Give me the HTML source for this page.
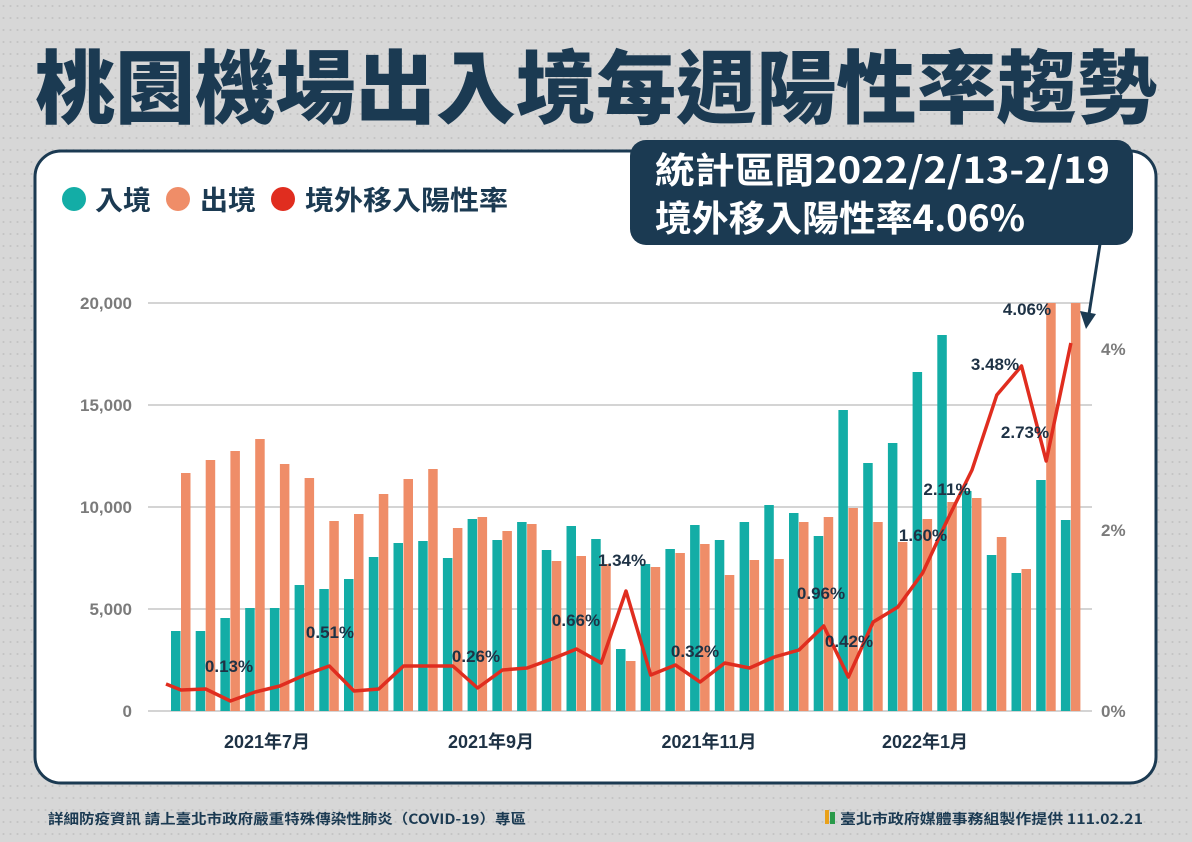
<!DOCTYPE html>
<html><head><meta charset="utf-8">
<style>
html,body{margin:0;padding:0;}
body{width:1192px;height:842px;overflow:hidden;background-color:#d7d7d7;
background-image:radial-gradient(circle,#c4c4c4 0.9px,transparent 1.2px);background-size:7px 12px;
font-family:"Liberation Sans","Noto Sans CJK TC",sans-serif;}
svg{position:absolute;left:0;top:0;}
</style></head><body>
<svg width="1192" height="842" viewBox="0 0 1192 842" xmlns="http://www.w3.org/2000/svg" font-family="'Liberation Sans','Noto Sans CJK TC',sans-serif">
<text x="596" y="117" text-anchor="middle" font-family="'Noto Sans CJK TC',sans-serif" font-weight="900" font-size="80" fill="#1b3a52" textLength="1122" lengthAdjust="spacingAndGlyphs">桃園機場出入境每週陽性率趨勢</text>
<rect x="35" y="151" width="1121" height="632" rx="26" fill="#fff" stroke="#1b3a52" stroke-width="3"/>
<!-- legend -->
<circle cx="74" cy="199" r="12" fill="#13ada6"/>
<text x="95" y="210" font-family="'Noto Sans CJK TC',sans-serif" font-weight="700" font-size="27" fill="#1b3a52" textLength="56" lengthAdjust="spacingAndGlyphs">入境</text>
<circle cx="178" cy="199" r="12" fill="#ef8d68"/>
<text x="200" y="210" font-family="'Noto Sans CJK TC',sans-serif" font-weight="700" font-size="27" fill="#1b3a52" textLength="56" lengthAdjust="spacingAndGlyphs">出境</text>
<circle cx="283" cy="199" r="12" fill="#e02d1f"/>
<text x="305" y="210" font-family="'Noto Sans CJK TC',sans-serif" font-weight="700" font-size="27" fill="#1b3a52" textLength="203" lengthAdjust="spacingAndGlyphs">境外移入陽性率</text>
<!-- grid -->
<g stroke="#bbb" stroke-width="1.3">
<line x1="148" y1="303" x2="1092" y2="303"/><line x1="148" y1="405" x2="1092" y2="405"/>
<line x1="148" y1="507" x2="1092" y2="507"/><line x1="148" y1="609" x2="1092" y2="609"/>
<line x1="148" y1="711" x2="1092" y2="711"/></g>
<g font-size="17" fill="#7b7b7b" font-weight="700" text-anchor="end">
<text x="132" y="309">20,000</text><text x="132" y="411">15,000</text><text x="132" y="513">10,000</text><text x="132" y="615">5,000</text><text x="132" y="717">0</text></g>
<g font-size="17" fill="#7b7b7b" font-weight="700">
<text x="1101" y="355">4%</text><text x="1101" y="536">2%</text><text x="1101" y="717">0%</text></g>
<!-- bars -->
<g fill="#13ada6">
<rect x="171" y="631" width="9.5" height="80"/><rect x="195.7" y="631" width="9.5" height="80"/><rect x="220.4" y="618" width="9.5" height="93"/><rect x="245.2" y="608" width="9.5" height="103"/><rect x="269.9" y="608" width="9.5" height="103"/><rect x="294.6" y="585" width="9.5" height="126"/><rect x="319.3" y="589" width="9.5" height="122"/><rect x="344" y="579" width="9.5" height="132"/><rect x="368.8" y="557" width="9.5" height="154"/><rect x="393.5" y="543" width="9.5" height="168"/><rect x="418.2" y="541" width="9.5" height="170"/><rect x="442.9" y="558" width="9.5" height="153"/><rect x="467.6" y="519" width="9.5" height="192"/><rect x="492.4" y="540" width="9.5" height="171"/><rect x="517.1" y="522" width="9.5" height="189"/><rect x="541.8" y="550" width="9.5" height="161"/><rect x="566.5" y="526" width="9.5" height="185"/><rect x="591.2" y="539" width="9.5" height="172"/><rect x="616" y="649" width="9.5" height="62"/><rect x="640.7" y="564" width="9.5" height="147"/><rect x="665.4" y="549" width="9.5" height="162"/><rect x="690.1" y="525" width="9.5" height="186"/><rect x="714.8" y="540" width="9.5" height="171"/><rect x="739.6" y="522" width="9.5" height="189"/><rect x="764.3" y="505" width="9.5" height="206"/><rect x="789" y="513" width="9.5" height="198"/><rect x="813.7" y="536" width="9.5" height="175"/><rect x="838.4" y="410" width="9.5" height="301"/><rect x="863.2" y="463" width="9.5" height="248"/><rect x="887.9" y="443" width="9.5" height="268"/><rect x="912.6" y="372" width="9.5" height="339"/><rect x="937.3" y="335" width="9.5" height="376"/><rect x="962" y="491" width="9.5" height="220"/><rect x="986.8" y="555" width="9.5" height="156"/><rect x="1011.5" y="573" width="9.5" height="138"/><rect x="1036.2" y="480" width="9.5" height="231"/><rect x="1060.9" y="520" width="9.5" height="191"/>
</g>
<g fill="#ef8d68">
<rect x="181" y="473" width="9.5" height="238"/><rect x="205.7" y="460" width="9.5" height="251"/><rect x="230.4" y="451" width="9.5" height="260"/><rect x="255.2" y="439" width="9.5" height="272"/><rect x="279.9" y="464" width="9.5" height="247"/><rect x="304.6" y="478" width="9.5" height="233"/><rect x="329.3" y="521" width="9.5" height="190"/><rect x="354" y="514" width="9.5" height="197"/><rect x="378.8" y="494" width="9.5" height="217"/><rect x="403.5" y="479" width="9.5" height="232"/><rect x="428.2" y="469" width="9.5" height="242"/><rect x="452.9" y="528" width="9.5" height="183"/><rect x="477.6" y="517" width="9.5" height="194"/><rect x="502.4" y="531" width="9.5" height="180"/><rect x="527.1" y="524" width="9.5" height="187"/><rect x="551.8" y="561" width="9.5" height="150"/><rect x="576.5" y="556" width="9.5" height="155"/><rect x="601.2" y="564" width="9.5" height="147"/><rect x="626" y="661" width="9.5" height="50"/><rect x="650.7" y="567" width="9.5" height="144"/><rect x="675.4" y="553" width="9.5" height="158"/><rect x="700.1" y="544" width="9.5" height="167"/><rect x="724.8" y="575" width="9.5" height="136"/><rect x="749.6" y="560" width="9.5" height="151"/><rect x="774.3" y="559" width="9.5" height="152"/><rect x="799" y="522" width="9.5" height="189"/><rect x="823.7" y="517" width="9.5" height="194"/><rect x="848.4" y="508" width="9.5" height="203"/><rect x="873.2" y="522" width="9.5" height="189"/><rect x="897.9" y="542" width="9.5" height="169"/><rect x="922.6" y="519" width="9.5" height="192"/><rect x="947.3" y="502" width="9.5" height="209"/><rect x="972" y="498" width="9.5" height="213"/><rect x="996.8" y="537" width="9.5" height="174"/><rect x="1021.5" y="569" width="9.5" height="142"/><rect x="1046.2" y="303" width="9.5" height="408"/><rect x="1070.9" y="303" width="9.5" height="408"/>
</g>
<polyline fill="none" stroke="#e02d1f" stroke-width="3.5" stroke-linejoin="round" points="166,684 181,690 205.7,689 230.4,701 255.2,692 279.9,686 304.6,675 329.3,666 354,691 378.8,689 403.5,666 428.2,666 452.9,666 477.6,688 502.4,670 527.1,668 551.8,659 576.5,649 601.2,663 626,591 650.7,675 675.4,665 700.1,682 724.8,663 749.6,668 774.3,657 799,650 823.7,626 848.4,677 873.2,622 897.9,607 922.6,573 947.3,520 972,470 996.8,395 1021.5,366 1046.2,461 1070.9,343"/>
<g font-size="17" font-weight="700" fill="#1e3245" text-anchor="middle">
<text x="229" y="672">0.13%</text><text x="330" y="638">0.51%</text><text x="476" y="662">0.26%</text><text x="576" y="626">0.66%</text><text x="622" y="566">1.34%</text><text x="695" y="657">0.32%</text><text x="821" y="599">0.96%</text><text x="849" y="647">0.42%</text><text x="923" y="541">1.60%</text><text x="947" y="495">2.11%</text><text x="995" y="370">3.48%</text><text x="1025" y="438">2.73%</text><text x="1027" y="315">4.06%</text></g>
<g font-size="18" font-weight="700" fill="#1e3245" text-anchor="middle">
<text x="267" y="748">2021年7月</text><text x="491" y="748">2021年9月</text><text x="709" y="748">2021年11月</text><text x="925" y="748">2022年1月</text></g>
<!-- callout -->
<rect x="630" y="140" width="503" height="105" rx="16" fill="#1b3a52"/>
<text x="655" y="183" font-size="36" font-weight="700" fill="#fff" font-family="'Noto Sans CJK TC',sans-serif" textLength="455" lengthAdjust="spacingAndGlyphs">統計區間2022/2/13-2/19</text>
<text x="655" y="231" font-size="36" font-weight="700" fill="#fff" font-family="'Noto Sans CJK TC',sans-serif" textLength="370" lengthAdjust="spacingAndGlyphs">境外移入陽性率4.06%</text>
<line x1="1100" y1="244" x2="1089" y2="314" stroke="#1b3a52" stroke-width="3"/>
<polygon points="1080,311 1096,314 1086,329" fill="#1b3a52"/>
<!-- footer -->
<text x="48" y="824" font-size="14" font-weight="700" fill="#1b3a52" font-family="'Noto Sans CJK TC',sans-serif" textLength="478" lengthAdjust="spacingAndGlyphs">詳細防疫資訊 請上臺北市政府嚴重特殊傳染性肺炎（COVID-19）專區</text>
<rect x="825" y="810" width="4" height="14" fill="#e9a11a"/><rect x="830" y="812" width="5" height="12" fill="#2a9a4a"/>
<text x="1143" y="824" text-anchor="end" font-size="14" font-weight="700" fill="#1b3a52" font-family="'Noto Sans CJK TC',sans-serif" textLength="303" lengthAdjust="spacingAndGlyphs">臺北市政府媒體事務組製作提供 111.02.21</text>
</svg>
</body></html>
